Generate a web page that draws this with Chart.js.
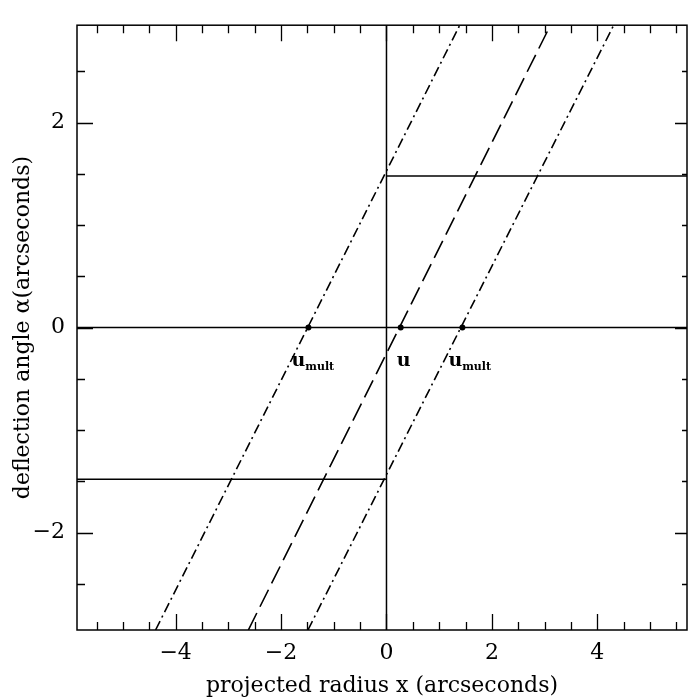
<!DOCTYPE html>
<html>
<head>
<meta charset="utf-8">
<script src="https://cdn.jsdelivr.net/npm/chart.js@4.4.0/dist/chart.umd.min.js"></script>
<style>
    html, body { margin: 0; padding: 0; background: #fff; }
</style>
</head>
<body>
<canvas id="chartDeflection" width="691" height="699"></canvas>
<script>
// axis limits (arcseconds)
var xMin = -5.87, xMax = 5.7;
var yMin = -2.95, yMax = 2.95;

// step deflection alpha(x) = -1.48 for x<0, +1.48 for x>0
var stepLeftX = [-5.87, 0];
var stepLeftY = [-1.48, -1.48];
var stepRightX = [0, 5.7];
var stepRightY = [1.48, 1.48];

// straight lines alpha = x - u, end points where they leave the frame
var lineY = [-2.95, 2.95];
var multLeftX = [-4.38, 1.39];
var sourceX = [-2.62, 3.11];
var multRightX = [-1.49, 4.31];

// crossings with alpha = 0 and their labels
var crossX = [-1.48, 0.27, 1.44];
var crossMain = ['u', 'u', 'u'];
var crossSub = ['mult', '', 'mult'];

var serif = "'DejaVu Serif', 'Liberation Serif', serif";

function toPts(xs, ys) {
    var pts = [];
    for (var i = 0; i < xs.length; i++) {
        pts.push({ x: xs[i], y: ys[i] });
    }
    return pts;
}

function minusSign(v) {
    return (v < 0 ? '\u2212' : '') + Math.abs(v);
}

// frame and inward tick marks on all four sides
const frameTicks = {
    id: 'frameTicks',
    afterDraw: function (chart) {
        const ctx = chart.ctx;
        const a = chart.chartArea;
        const sx = chart.scales.x, sy = chart.scales.y;
        ctx.save();
        ctx.strokeStyle = '#000';
        ctx.lineWidth = 1.5;
        ctx.strokeRect(a.left, a.top, a.right - a.left, a.bottom - a.top);
        ctx.lineWidth = 1.3;
        ctx.beginPath();
        for (let v = -5.5; v <= 5.5; v += 0.5) {
            let len = (v % 2 === 0) ? 16 : 8;
            let px = Math.round(sx.getPixelForValue(v)) + 0.5;
            ctx.moveTo(px, a.bottom); ctx.lineTo(px, a.bottom - len);
            ctx.moveTo(px, a.top); ctx.lineTo(px, a.top + len);
        }
        for (let v = -2.5; v <= 2.5; v += 0.5) {
            let major = (v % 2 === 0);
            let py = Math.round(sy.getPixelForValue(v)) + 0.5;
            ctx.moveTo(a.left, py); ctx.lineTo(a.left + (major ? 16 : 8), py);
            ctx.moveTo(a.right, py); ctx.lineTo(a.right - (major ? 12 : 5), py);
        }
        ctx.stroke();
        ctx.restore();
    }
};

// u / u_mult labels under the crossing points
const crossLabels = {
    id: 'crossLabels',
    afterDatasetsDraw: function (chart) {
        const ctx = chart.ctx;
        const sx = chart.scales.x, sy = chart.scales.y;
        const shift = [-17, -4, -14];
        const y0 = sy.getPixelForValue(0);
        ctx.save();
        ctx.fillStyle = '#000';
        ctx.textBaseline = 'alphabetic';
        ctx.textAlign = 'left';
        for (let i = 0; i < crossX.length; i++) {
            let px = sx.getPixelForValue(crossX[i]) + shift[i];
            ctx.font = 'bold 19px ' + serif;
            ctx.fillText(crossMain[i], px, y0 + 38);
            if (crossSub[i]) {
                let w = ctx.measureText(crossMain[i]).width;
                ctx.font = 'bold 11px ' + serif;
                ctx.fillText(crossSub[i], px + w, y0 + 42);
            }
        }
        ctx.restore();
    }
};

function lineSet(pts, dash, width) {
    return {
        data: pts,
        showLine: true,
        borderColor: '#000',
        borderWidth: width,
        borderDash: dash,
        pointRadius: 0,
        fill: false
    };
}

let ctxDef = document.getElementById('chartDeflection').getContext('2d');

let objDatasets = [
    lineSet(toPts([xMin, xMax], [0, 0]), [], 1.5),
    lineSet(toPts([0, 0], [yMin, yMax]), [], 1.5),
    lineSet(toPts(stepLeftX, stepLeftY), [], 1.5),
    lineSet(toPts(stepRightX, stepRightY), [], 1.5),
    lineSet(toPts(multLeftX, lineY), [10, 4, 2, 4], 1.6),
    lineSet(toPts(sourceX, lineY), [19, 7], 1.6),
    lineSet(toPts(multRightX, lineY), [10, 4, 2, 4], 1.6),
    {
        data: toPts(crossX, [0, 0, 0]),
        showLine: false,
        pointRadius: 3,
        pointBackgroundColor: '#000',
        pointBorderColor: '#000',
        pointBorderWidth: 0
    }
];

let defChart = new Chart(ctxDef, {
    type: 'scatter',
    data: { datasets: objDatasets },
    plugins: [frameTicks, crossLabels],
    options: {
        responsive: false,
        animation: false,
        events: [],
        layout: { padding: { top: 8, right: 1, left: 0, bottom: 0 } },
        plugins: {
            legend: { display: false },
            tooltip: { enabled: false }
        },
        scales: {
            x: {
                type: 'linear',
                min: xMin,
                max: xMax,
                afterFit: function (scale) { scale.height = 69; },
                grid: { display: false, drawTicks: false },
                border: { display: false },
                ticks: {
                    stepSize: 2,
                    includeBounds: false,
                    padding: 10,
                    maxRotation: 0,
                    color: '#000',
                    font: { family: serif, size: 22 },
                    callback: function (v) { return minusSign(v); }
                },
                title: {
                    display: true,
                    text: 'projected radius x (arcseconds)',
                    color: '#000',
                    font: { family: serif, size: 22, lineHeight: 1.2 },
                    padding: { top: 0, bottom: 0 }
                }
            },
            y: {
                type: 'linear',
                min: yMin,
                max: yMax,
                afterFit: function (scale) { scale.width = 77; },
                grid: { display: false, drawTicks: false },
                border: { display: false },
                ticks: {
                    stepSize: 2,
                    includeBounds: false,
                    padding: 12,
                    color: '#000',
                    font: { family: serif, size: 22 },
                    callback: function (v) { return minusSign(v); }
                },
                title: {
                    display: true,
                    text: 'deflection angle \u03b1(arcseconds)',
                    color: '#000',
                    font: { family: serif, size: 22, lineHeight: 1.2 },
                    padding: { top: 10, bottom: 0 }
                }
            }
        }
    }
});
</script>
</body>
</html>
